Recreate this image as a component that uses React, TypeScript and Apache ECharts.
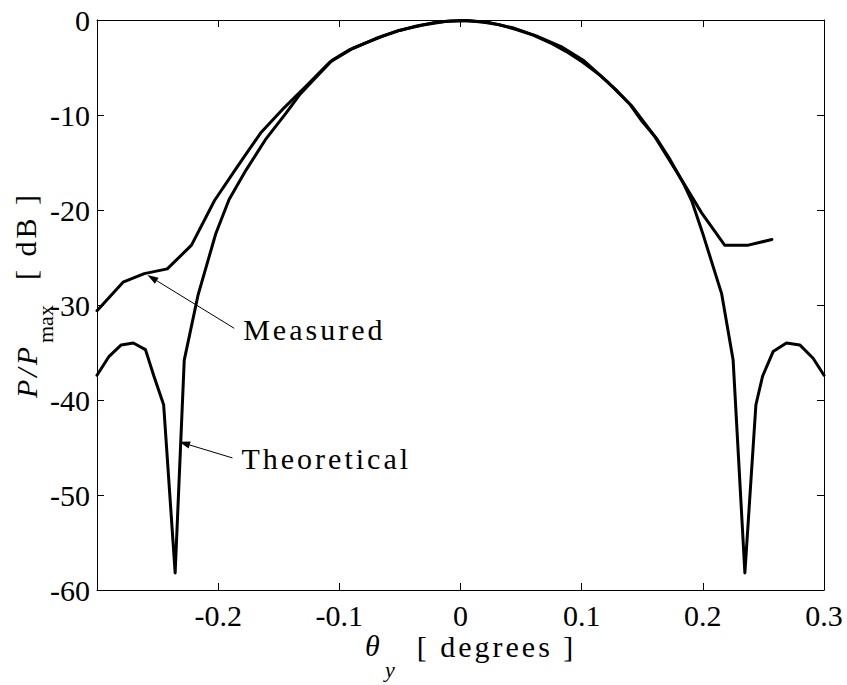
import React, { useEffect, useRef } from "react";
import * as echarts from "echarts";

// Angle (degrees) and normalised power (dB) of the theoretical pattern
const thetaTheory = [
  -0.3, -0.29, -0.28, -0.27, -0.26, -0.253, -0.245, -0.2355, -0.228, -0.2165,
  -0.202, -0.191, -0.177, -0.161, -0.144, -0.133, -0.119, -0.106, -0.092, -0.078,
  -0.064, -0.05, -0.037, -0.023, -0.009, 0.002, 0.018, 0.032, 0.046, 0.06,
  0.074, 0.087, 0.101, 0.115, 0.128, 0.14, 0.15, 0.162, 0.173, 0.184,
  0.191, 0.2, 0.2155, 0.225, 0.2347, 0.2438, 0.2493, 0.258, 0.269, 0.28,
  0.291, 0.3,
];
const powerTheory = [
  -37.4, -35.4, -34.2, -34.0, -34.7, -37.5, -40.5, -58.2, -35.8, -28.9,
  -22.5, -18.9, -15.8, -12.6, -9.8, -7.9, -6.0, -4.25, -3.15, -2.4,
  -1.7, -1.1, -0.65, -0.3, -0.1, -0.05, -0.2, -0.5, -1.0, -1.6,
  -2.4, -3.3, -4.45, -5.8, -7.3, -8.9, -10.7, -12.5, -14.7, -17.2,
  -19.1, -22.5, -28.8, -35.8, -58.2, -40.5, -37.5, -34.9, -34.0, -34.2,
  -35.6, -37.4,
];

// Measured pattern
const thetaMeasured = [
  -0.3, -0.2785, -0.261, -0.242, -0.222, -0.203, -0.184, -0.165, -0.146, -0.127,
  -0.108, -0.089, -0.07, -0.051, -0.032, -0.013, 0.006, 0.025, 0.044, 0.063,
  0.083, 0.102, 0.122, 0.141, 0.16, 0.18, 0.199, 0.218, 0.2375, 0.257,
];
const powerMeasured = [
  -30.6, -27.6, -26.7, -26.2, -23.7, -19.0, -15.4, -11.9, -9.3, -6.9,
  -4.45, -3.0, -1.95, -1.1, -0.55, -0.15, -0.05, -0.3, -0.85, -1.7,
  -2.8, -4.3, -6.6, -9.0, -12.2, -16.3, -20.3, -23.7, -23.7, -23.1,
];

// Callouts: [tail theta, tail dB, tip theta, tip dB]
const calloutLabels = ["Measured", "Theoretical"];
const calloutArrows = [
  [-0.1868, -32.45, -0.2584, -26.84],
  [-0.1882, -46.1, -0.2322, -44.4],
];

const xTicks = { min: -0.3, max: 0.3, step: 0.1 };
const yTicks = { min: -60, max: 0, step: 10 };

const SERIF = "Liberation Serif, Times New Roman, serif";
const SPACED = new Set(["Measured", "Theoretical", "[ degrees ]", "[ dB ]", "P/P"]);

function applyLetterSpacing(root: HTMLElement | null) {
  if (!root) return;
  root.querySelectorAll("text").forEach((t) => {
    const s = (t.textContent || "").trim();
    if (SPACED.has(s)) (t as SVGTextElement).style.letterSpacing = "3px";
  });
}

const txt = (text: string, x: number, y: number, font: string) => ({
  type: "text",
  x,
  y,
  silent: true,
  style: {
    text,
    font,
    fill: "#000",
    align: "left",
    verticalAlign: "middle",
    textAlign: "left",
    textVerticalAlign: "middle",
  },
});

export default function App() {
  const ref = useRef<HTMLDivElement>(null);

  useEffect(() => {
    if (!ref.current) return;
    const chart = echarts.init(ref.current, undefined, { renderer: "svg" });

    const zip = (xs: number[], ys: number[]) => xs.map((x, i) => [x, ys[i]]);

    const axisCommon = {
      type: "value" as const,
      splitLine: { show: false },
      axisLine: { show: true, onZero: false, lineStyle: { color: "#000", width: 1 } },
      axisTick: { show: true, inside: true, length: 7, lineStyle: { color: "#000", width: 1 } },
    };

    const labelStyle = { color: "#000", fontSize: 30, fontFamily: SERIF };

    chart.setOption({
      animation: false,
      backgroundColor: "#fff",
      textStyle: { fontFamily: SERIF },
      grid: { left: 97, right: 23, top: 20, bottom: 95 },
      xAxis: [
        {
          ...axisCommon,
          position: "bottom",
          min: xTicks.min,
          max: xTicks.max,
          interval: xTicks.step,
          axisLabel: { ...labelStyle, margin: 10, showMinLabel: false },
        },
        {
          ...axisCommon,
          position: "top",
          min: xTicks.min,
          max: xTicks.max,
          interval: xTicks.step,
          axisLabel: { show: false },
        },
      ],
      yAxis: [
        {
          ...axisCommon,
          position: "left",
          min: yTicks.min,
          max: yTicks.max,
          interval: yTicks.step,
          axisLabel: { ...labelStyle, margin: 7 },
        },
        {
          ...axisCommon,
          position: "right",
          min: yTicks.min,
          max: yTicks.max,
          interval: yTicks.step,
          axisLabel: { show: false },
        },
      ],
      series: [
        {
          type: "line",
          name: "Theoretical",
          data: zip(thetaTheory, powerTheory),
          symbol: "none",
          silent: true,
          lineStyle: { color: "#000", width: 3, join: "round", cap: "round" },
        },
        {
          type: "line",
          name: "Measured",
          data: zip(thetaMeasured, powerMeasured),
          symbol: "none",
          silent: true,
          lineStyle: { color: "#000", width: 3, join: "round", cap: "round" },
        },
        {
          type: "custom",
          name: "callouts",
          silent: true,
          clip: false,
          encode: { x: [0, 2], y: [1, 3] },
          data: calloutArrows,
          renderItem: (params: any, api: any) => {
            const a = api.coord([api.value(0), api.value(1)]);
            const b = api.coord([api.value(2), api.value(3)]);
            const dx = b[0] - a[0];
            const dy = b[1] - a[1];
            const len = Math.hypot(dx, dy) || 1;
            const ux = dx / len;
            const uy = dy / len;
            const headLen = 11;
            const headW = 3.6;
            const bx = b[0] - ux * headLen;
            const by = b[1] - uy * headLen;
            const px = -uy;
            const py = ux;
            return {
              type: "group",
              children: [
                {
                  type: "line",
                  shape: { x1: a[0], y1: a[1], x2: bx, y2: by },
                  style: { stroke: "#000", lineWidth: 1 },
                },
                {
                  type: "polygon",
                  shape: {
                    points: [
                      [b[0], b[1]],
                      [bx + px * headW, by + py * headW],
                      [bx - px * headW, by - py * headW],
                    ],
                  },
                  style: { fill: "#000" },
                },
                txt(calloutLabels[params.dataIndex], a[0] + 9, a[1] + 1, `30px ${SERIF}`),
              ],
            };
          },
        },
      ],
      graphic: [
        {
          type: "group",
          x: 0,
          y: 398,
          rotation: Math.PI / 2,
          silent: true,
          children: [
            txt("P/P", 0, 26, `italic 30px ${SERIF}`),
            txt("max", 55, 45, `22px ${SERIF}`),
            txt("[ dB ]", 118, 25, `30px ${SERIF}`),
          ],
        },
        txt("θ", 365, 645, `italic 30px ${SERIF}`),
        txt("y", 385, 669, `italic 22px ${SERIF}`),
        txt("[ degrees ]", 416.7, 646, `30px ${SERIF}`),
      ],
    });

    const root = ref.current;
    applyLetterSpacing(root);
    chart.on("finished", () => applyLetterSpacing(root));
    const timer = window.setTimeout(() => applyLetterSpacing(root), 50);

    return () => {
      window.clearTimeout(timer);
      chart.dispose();
    };
  }, []);

  return (
    <div
      ref={ref}
      style={{ position: "absolute", left: 0, top: 0, width: 847, height: 685, background: "#fff" }}
    />
  );
}
